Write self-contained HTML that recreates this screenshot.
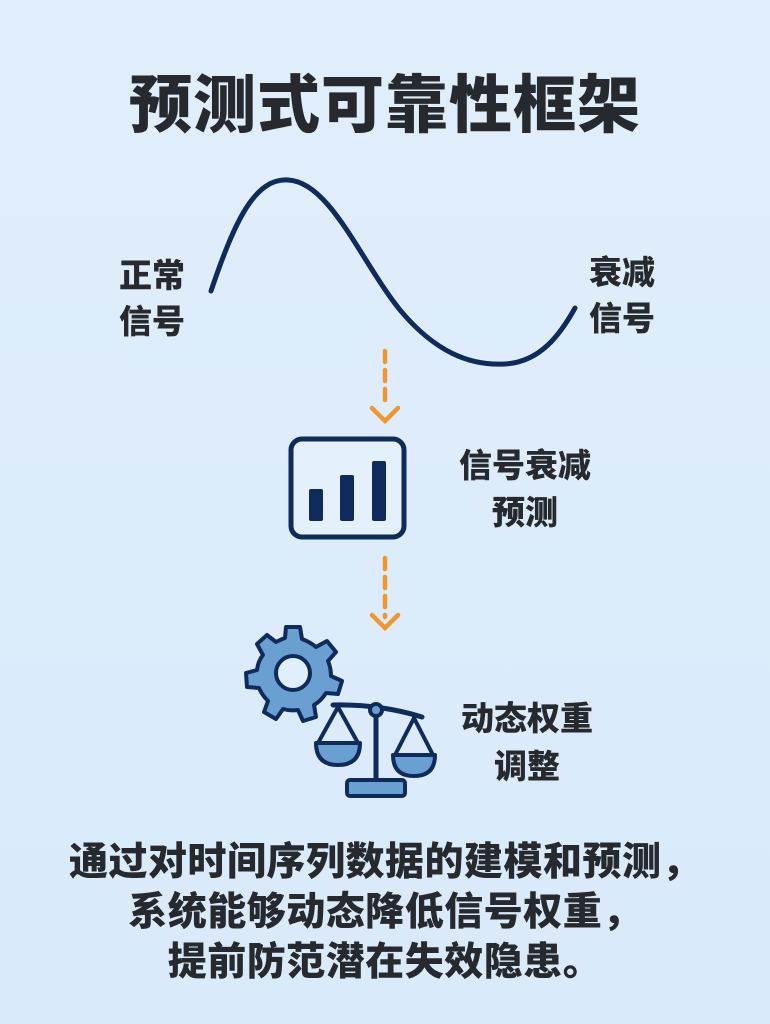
<!DOCTYPE html>
<html><head><meta charset="utf-8"><style>
html,body{margin:0;padding:0}
body{width:770px;height:1024px;background:linear-gradient(180deg,#e1eefb,#d9eafb);position:relative;overflow:hidden;font-family:"Liberation Sans","Noto Sans CJK SC",sans-serif;color:#262a2f}
.t{position:absolute;font-weight:900;text-align:center;white-space:nowrap}
</style></head><body>
<div class="t" style="left:0;width:770px;top:66px;font-size:63px;line-height:80px;letter-spacing:1px">预测式可靠性框架</div>
<div class="t" style="left:102px;width:100px;top:253px;font-size:33px;line-height:46px">正常<br>信号</div>
<div class="t" style="left:572px;width:100px;top:250px;font-size:33px;line-height:46px">衰减<br>信号</div>
<div class="t" style="left:445px;width:160px;top:442px;font-size:33px;line-height:47px">信号衰减<br>预测</div>
<div class="t" style="left:447px;width:160px;top:695px;font-size:33px;line-height:48px">动态权重<br>调整</div>
<div class="t" style="left:0;width:770px;top:838px;font-size:39px;line-height:50px;letter-spacing:0.5px">通过对时间序列数据的建模和预测，<br>系统能够动态降低信号权重，<br>提前防范潜在失效隐患。</div>
<svg width="770" height="1024" style="position:absolute;left:0;top:0">
<path d="M211,291 C235,220 255,178 288,180 C330,182 360,260 400,310 C435,352 470,366 505,364 C540,362 560,335 575,308" fill="none" stroke="#0f2b5b" stroke-width="5" stroke-linecap="round"/>
<g stroke="#f0962e" stroke-width="4.5" fill="none" stroke-linecap="round">
<line x1="385" y1="351" x2="385" y2="408" stroke-dasharray="11,8"/>
<polyline points="372,408 385,421 398,408"/>
<line x1="385" y1="558" x2="385" y2="617" stroke-dasharray="11,8"/>
<polyline points="372,615 385,628 398,615"/>
</g>
<rect x="291" y="439" width="113" height="98" rx="11" fill="#e4f0fc" stroke="#0f2b5b" stroke-width="5"/>
<g fill="#0f2b5b">
<rect x="309" y="489" width="14" height="32" rx="2"/>
<rect x="340" y="475" width="14" height="46" rx="2"/>
<rect x="372" y="461" width="14" height="60" rx="2"/>
</g>
<g transform="translate(293,673)" fill="#6a9fd1" stroke="#0f2b5b" stroke-width="4" stroke-linejoin="round">
<path d="M-7,-46 L7,-46 L9,-34 Q17,-31 23,-26 L34,-32 L43,-21 L35,-12 Q38,-5 38,3 L49,8 L45,21 L33,20 Q28,28 21,32 L23,44 L10,48 L5,37 Q-3,38 -10,36 L-17,46 L-29,39 L-25,28 Q-31,22 -34,15 L-46,14 L-47,0 L-36,-3 Q-35,-12 -30,-18 L-36,-29 L-26,-38 L-17,-31 Q-11,-34 -8,-35 Z"/>
<circle cx="0" cy="0" r="17" fill="#e1eefb"/>
</g>
<g stroke="#0f2b5b" stroke-width="4" stroke-linejoin="round" stroke-linecap="round">
<path d="M333,705 Q380,704 422,717" fill="none" stroke-width="5"/>
<line x1="376" y1="708" x2="376" y2="782" stroke-width="5"/>
<circle cx="376" cy="710" r="6" fill="#6a9fd1"/>
<path d="M338,707 L318,743 M338,707 L358,743 M414,718 L395,755 M414,718 L433,755" fill="none"/>
<path d="M316,743 L360,743 Q360,765 338,765 Q316,765 316,743 Z" fill="#6a9fd1"/>
<path d="M393,755 L435,755 Q435,776 414,776 Q393,776 393,755 Z" fill="#6a9fd1"/>
<rect x="347" y="780" width="58" height="16" rx="3" fill="#6a9fd1"/>
</g>
</svg>
</body></html>
